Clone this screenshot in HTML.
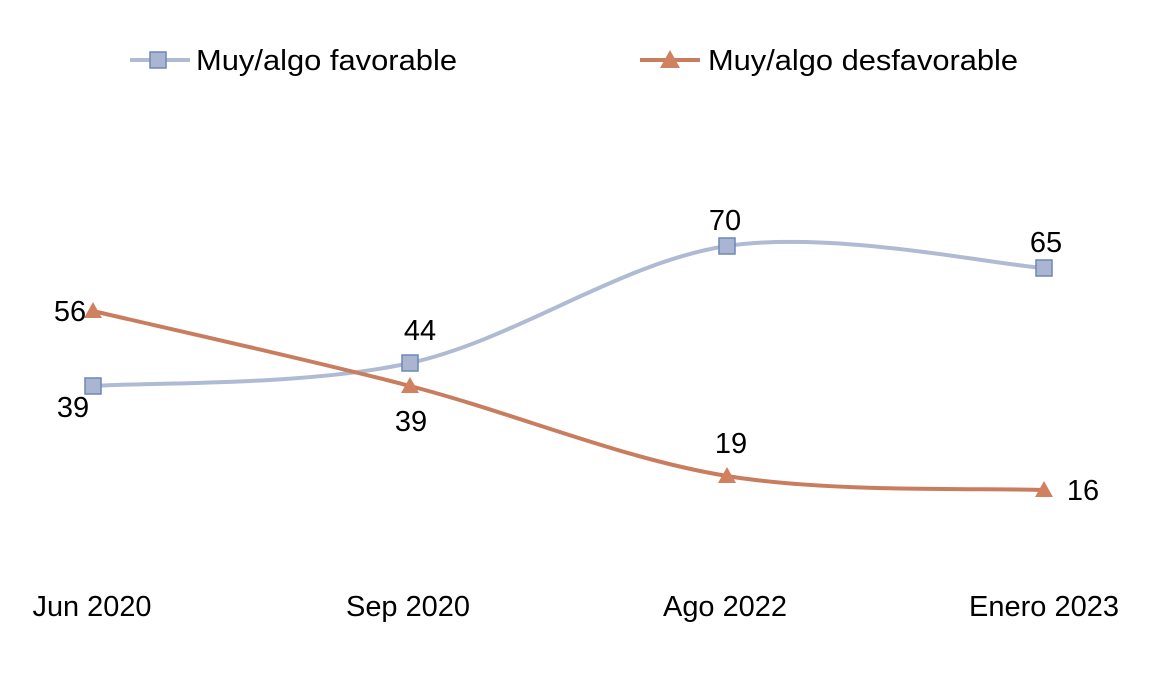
<!DOCTYPE html>
<html><head><meta charset="utf-8"><style>
html,body{margin:0;padding:0;background:#fff;}
svg{display:block;}
text{font-family:"Liberation Sans",sans-serif;font-size:29px;fill:#000;}
</style></head><body>
<svg width="1164" height="690" viewBox="0 0 1164 690">
<line x1="130" y1="60" x2="190" y2="60" stroke="#afbbd2" stroke-width="4"/>
<rect x="150" y="52" width="16" height="16" fill="#aab5d1" stroke="#6f86b8" stroke-width="1.5"/>
<text x="196" y="70" textLength="261" lengthAdjust="spacingAndGlyphs">Muy/algo favorable</text>
<line x1="640" y1="60" x2="700" y2="60" stroke="#c97d5f" stroke-width="4"/>
<polygon points="670,50 680,68 660,68" fill="#d08260"/>
<text x="708" y="70" textLength="310" lengthAdjust="spacingAndGlyphs">Muy/algo desfavorable</text>

<path d="M93,386 C145.8,382.2 304.3,386.3 410,363 C515.7,339.7 621.3,261.8 727,246 C832.7,230.2 991.2,264.3 1044,268" fill="none" stroke="#afbbd2" stroke-width="4"/>
<path d="M93,311 C145.8,323.5 304.3,358.5 410,386 C515.7,413.5 621.3,458.7 727,476 C832.7,493.3 991.2,487.7 1044,490" fill="none" stroke="#c97d5f" stroke-width="4"/>

<g fill="#aab5d1" stroke="#6f86b8" stroke-width="1.5">
<rect x="85" y="378" width="16" height="16"/>
<rect x="402" y="355" width="16" height="16"/>
<rect x="719" y="238" width="16" height="16"/>
<rect x="1036" y="260" width="16" height="16"/>
</g>
<g fill="#d08260">
<polygon points="93,302 102,318 84,318"/>
<polygon points="410,377 419,393 401,393"/>
<polygon points="727,467 736,483 718,483"/>
<polygon points="1044,481 1053,497 1035,497"/>
</g>

<g text-anchor="middle">
<text x="73" y="417">39</text>
<text x="70" y="321">56</text>
<text x="420" y="340">44</text>
<text x="411" y="431">39</text>
<text x="725" y="230">70</text>
<text x="731" y="453">19</text>
<text x="1046" y="252">65</text>
<text x="1083" y="500">16</text>
<text x="92" y="616" textLength="119" lengthAdjust="spacingAndGlyphs">Jun 2020</text>
<text x="408" y="616" textLength="124" lengthAdjust="spacingAndGlyphs">Sep 2020</text>
<text x="725" y="616" textLength="124" lengthAdjust="spacingAndGlyphs">Ago 2022</text>
<text x="1044" y="616" textLength="150" lengthAdjust="spacingAndGlyphs">Enero 2023</text>
</g>
</svg>
</body></html>
